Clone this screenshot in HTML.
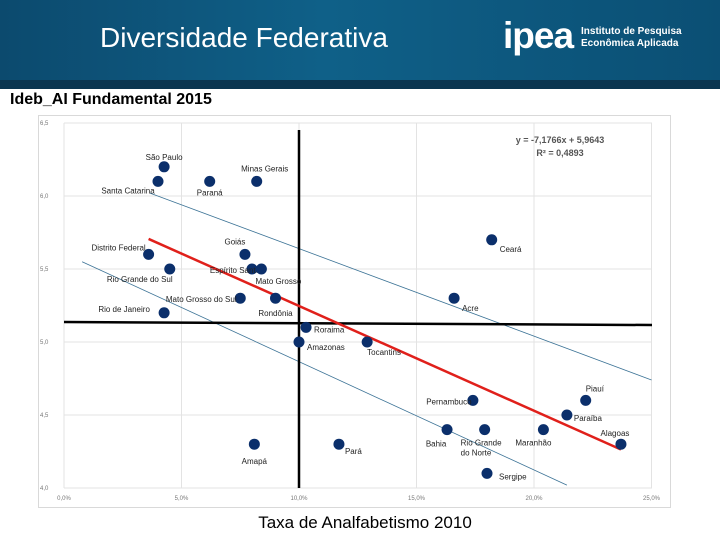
<!DOCTYPE html>
<html><head><meta charset="utf-8"><style>
body{margin:0;width:720px;height:540px;background:#fff;overflow:hidden;font-family:"Liberation Sans",sans-serif;position:relative}
#hdr{position:absolute;left:0;top:0;width:720px;height:88px;background:linear-gradient(90deg,#0c4a6e 0%,#0f6088 45%,#0b4f74 100%)}
#hdr .t{position:absolute;left:100px;top:22px;color:#fff;font-size:28px}
#logo{position:absolute;left:503px;top:15px;color:#fff;font-size:37px;font-weight:bold;letter-spacing:-1px}
#logo2{position:absolute;left:581px;top:26px;color:#fff;font-size:10px;font-weight:bold;line-height:12px}
#band{position:absolute;left:0;top:80px;width:720px;height:9px;background:#0a3550}
#sub{position:absolute;left:10px;top:91px;font-size:16px;font-weight:bold}
#xt{position:absolute;left:0;width:730px;top:513px;text-align:center;font-size:17px}
svg{position:absolute;left:0;top:0}
</style></head><body>
<div id="hdr"><div class="t">Diversidade Federativa</div>
<div id="logo">ipea</div>
<div id="logo2">Instituto de Pesquisa<br>Econômica Aplicada</div></div>
<div id="band"></div>
<div id="sub">Ideb_AI Fundamental 2015</div>
<svg id="c" width="720" height="540"></svg>
<div id="xt">Taxa de Analfabetismo 2010</div>
<script>
const states=["São Paulo","Santa Catarina","Paraná","Minas Gerais","Distrito Federal","Goiás","Rio Grande do Sul","Espírito Santo","Mato Grosso","Mato Grosso do Sul","Rondônia","Rio de Janeiro","Roraima","Amazonas","Tocantins","Acre","Ceará","Pernambuco","Piauí","Paraíba","Bahia","Rio Grande do Norte","Maranhão","Alagoas","Amapá","Pará","Sergipe"];
const analf=[4.26,4.0,6.2,8.2,3.6,7.7,4.5,8.0,8.4,7.5,9.0,4.26,10.3,10.0,12.9,16.6,18.2,17.4,22.2,21.4,16.3,17.9,20.4,23.7,8.1,11.7,18.0];
const ideb=[6.2,6.1,6.1,6.1,5.6,5.6,5.5,5.5,5.5,5.3,5.3,5.2,5.1,5.0,5.0,5.3,5.7,4.6,4.6,4.5,4.4,4.4,4.4,4.3,4.3,4.3,4.1];
const xTicks=["0,0%","5,0%","10,0%","15,0%","20,0%","25,0%"];
const yTicks=["4,0","4,5","5,0","5,5","6,0","6,5"];
const slope=-7.1766, intercept=5.9643, r2="0,4893";
const meanX=10.0, meanY=5.13;
const bandUpper=[[3.66,6.02],[25,4.74]], bandLower=[[0.77,5.55],[21.4,4.02]];
const off=[[0,-7,"middle"],[-30,12,"middle"],[0,14,"middle"],[8,-10,"middle"],[-30,-4,"middle"],[-10,-10,"middle"],[-30,13,"middle"],[-17,4,"middle"],[17,15,"middle"],[-39,4,"middle"],[0,18,"middle"],[-40,-1,"middle"],[8,5,"start"],[8,8,"start"],[0,13,"start"],[8,13,"start"],[8,12,"start"],[-24,4,"middle"],[0,-9,"start"],[7,6,"start"],[-11,17,"middle"],[-24,16,"start"],[-28,16,"start"],[-6,-8,"middle"],[0,20,"middle"],[6,10,"start"],[12,6,"start"]];
const X=v=>64+v*23.5, Y=v=>123+(6.5-v)*146;
const s=document.getElementById('c'),NS="http://www.w3.org/2000/svg";
function mk(t,a,p){const e=document.createElementNS(NS,t);for(const k in a)e.setAttribute(k,a[k]);(p||s).appendChild(e);return e;}
let e=mk('rect',{x:38.5,y:115.5,width:632,height:392,fill:'#fff',stroke:'#d9d9d9'});


yTicks.forEach((t,i)=>{const v=4+i*0.5;
 let g=mk('line',{x1:64,x2:652,y1:Y(v),y2:Y(v),stroke:'#e3e3e3'});
 
 
 let l=mk('text',{x:40,y:Y(v)+2,'font-size':6,fill:'#777'});l.textContent=t;
 
 });
xTicks.forEach((t,i)=>{const v=i*5;
 let g=mk('line',{x1:X(v),x2:X(v),y1:Y(6.5),y2:Y(4),stroke:'#e3e3e3'});
 
 
 let l=mk('text',{x:X(v),y:500,'font-size':6,fill:'#777','text-anchor':'middle'});l.textContent=t;
 
 });
[bandUpper,bandLower].forEach(b=>{let l=mk('line',{x1:X(b[0][0]),y1:Y(b[0][1]),x2:X(b[1][0]),y2:Y(b[1][1]),stroke:'#3c7396','stroke-width':0.8});
 
 });
e=mk('line',{x1:64,x2:652,y1:Y(meanY)-1,y2:Y(meanY)+2,stroke:'#000','stroke-width':2.5});


e=mk('line',{x1:X(meanX),x2:X(meanX),y1:130,y2:Y(4),stroke:'#000','stroke-width':2.5});


const x0=3.6,x1=23.7;
e=mk('line',{x1:X(x0),y1:Y(slope*x0/100+intercept),x2:X(x1),y2:Y(slope*x1/100+intercept),stroke:'#e0201b','stroke-width':2.5});


e=mk('text',{x:560,y:143,'font-size':9,'font-weight':'bold',fill:'#555','text-anchor':'middle'});e.textContent='y = '+String(slope).replace('.',',')+'x + '+String(intercept).replace('.',',');


e=mk('text',{x:560,y:156,'font-size':9,'font-weight':'bold',fill:'#555','text-anchor':'middle'});e.textContent='R² = '+r2;


states.forEach((n,i)=>{const cx=X(analf[i]),cy=Y(ideb[i]);
 let c=mk('circle',{cx,cy,r:5.5,fill:'#0b2f6b'});
 
 
 const o=off[i];let t=mk('text',{x:cx+o[0],y:cy+o[1],'font-size':8,fill:'#222','text-anchor':o[2]});
 if(n==="Rio Grande do Norte"){t.innerHTML='<tspan x="'+(cx+o[0])+'">Rio Grande</tspan><tspan x="'+(cx+o[0])+'" dy="10">do Norte</tspan>';}else t.textContent=n;
 
 });
</script>
</body></html>
